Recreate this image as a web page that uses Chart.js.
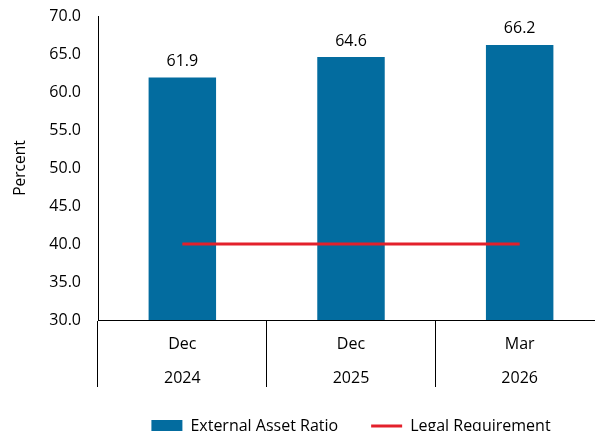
<!DOCTYPE html>
<html>
<head>
<meta charset="utf-8">
<script src="https://cdn.jsdelivr.net/npm/chart.js@4"></script>
<style>
  html, body { margin: 0; padding: 0; overflow: hidden; background: #fff; }
  #wrap { width: 606px; height: 444px; position: relative; }
</style>
</head>
<body>
<div id="wrap"><canvas id="c"></canvas></div>
<script>
const categories = [["Dec", "2024"], ["Dec", "2025"], ["Mar", "2026"]];
const externalAssetRatio = [61.9, 64.6, 66.2];
const legalRequirement = [40, 40, 40];
const yMin = 30, yMax = 70, yStep = 5;

const FONT = "'Open Sans', sans-serif";

const valueLabels = {
  id: 'valueLabels',
  afterDatasetsDraw(chart) {
    const ctx = chart.ctx;
    const idx = chart.data.datasets.findIndex(d => d.type === 'bar');
    const meta = chart.getDatasetMeta(idx);
    ctx.save();
    ctx.font = "16px " + FONT;
    ctx.fillStyle = '#000';
    ctx.textAlign = 'center';
    ctx.textBaseline = 'middle';
    meta.data.forEach((el, i) => {
      ctx.fillText(externalAssetRatio[i].toFixed(1), el.x, el.y - 16);
    });
    ctx.restore();
  }
};

new Chart(document.getElementById('c'), {
  data: {
    labels: categories,
    datasets: [
      {
        type: 'line',
        label: 'Legal Requirement',
        data: legalRequirement,
        borderColor: '#e3202b',
        backgroundColor: '#e3202b',
        borderWidth: 3,
        pointRadius: 0,
        pointStyle: 'line',
        order: 0
      },
      {
        type: 'bar',
        label: 'External Asset Ratio',
        data: externalAssetRatio,
        backgroundColor: '#036c9f',
        borderWidth: 0,
        categoryPercentage: 1.0,
        barPercentage: 0.4,
        pointStyle: 'rect',
        order: 1
      }
    ]
  },
  options: {
    responsive: true,
    maintainAspectRatio: false,
    animation: false,
    layout: { padding: { top: 16, right: 2, left: 0, bottom: 0 } },
    plugins: {
      tooltip: { enabled: false },
      legend: {
        position: 'bottom',
        fullSize: false,
        reverse: true,
        labels: {
          usePointStyle: true,
          pointStyleWidth: 31,
          boxHeight: 12,
          padding: 33,
          color: '#000',
          font: { family: FONT, size: 16 }
        }
      }
    },
    scales: {
      x: {
        type: 'category',
        offset: true,
        grid: {
          offset: true,
          drawOnChartArea: false,
          drawTicks: true,
          tickLength: 67,
          color: '#000',
          lineWidth: 1
        },
        border: { display: true, color: '#000', width: 1 },
        ticks: {
          color: '#000',
          padding: -60,
          maxRotation: 0,
          font: { family: FONT, size: 16, lineHeight: 2.125 }
        },
        afterFit(scale) { scale.height = 65; }
      },
      y: {
        min: yMin,
        max: yMax,
        grid: { display: true, drawOnChartArea: false, drawTicks: false },
        border: { display: true, color: '#000', width: 1 },
        ticks: {
          stepSize: yStep,
          padding: 17,
          color: '#000',
          font: { family: FONT, size: 16 },
          callback: v => Number(v).toFixed(1)
        },
        title: {
          display: true,
          text: 'Percent',
          color: '#000',
          font: { family: FONT, size: 15.5 },
          padding: { top: 11, bottom: 0 }
        },
        afterFit(scale) {
          scale.width = 98;
          scale.paddingTop = 0;
          scale.paddingBottom = 0;
        }
      }
    }
  },
  plugins: [valueLabels]
});
</script>
</body>
</html>
